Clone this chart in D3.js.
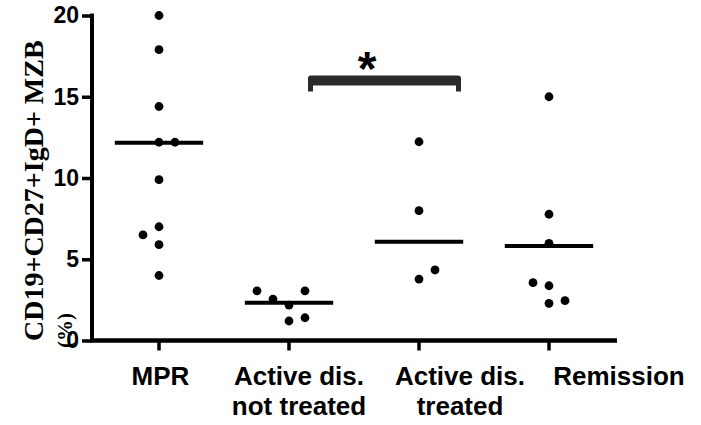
<!DOCTYPE html>
<html>
<head>
<meta charset="utf-8">
<script src="https://cdn.jsdelivr.net/npm/d3@7"></script>
<style>
  body { margin: 0; background: #fff; }
  svg { display: block; }
</style>
</head>
<body>
<script>
// Groups along the x axis and their (wrapped) labels
const categories = ["MPR", "Active dis. not treated", "Active dis. treated", "Remission"];
const categoryLines = [["MPR"], ["Active dis.", "not treated"], ["Active dis.", "treated"], ["Remission"]];

// Per-patient percentages, in entry order
const mprValues = [20.0, 17.9, 14.4, 12.2, 12.2, 9.9, 7.0, 6.5, 5.9, 4.0];
const activeUntreatedValues = [1.2, 1.4, 2.18, 2.55, 3.06, 3.06];
const activeTreatedValues = [3.78, 4.34, 7.99, 12.23];
const remissionValues = [2.29, 2.45, 3.37, 3.56, 5.98, 7.77, 15.0];

// Horizontal summary line for each group
const groupCenters = [12.17, 2.33, 6.08, 5.82];

const yTicks = [0, 5, 10, 15, 20];

// Significance bracket between two groups
const sigPair = [1, 2];
const sigLevel = 16;
const sigLabel = "*";

const yTitleLines = ["CD19+CD27+IgD+ MZB", "(%)"];

const groups = [mprValues, activeUntreatedValues, activeTreatedValues, remissionValues];

const W = 701, H = 425;
const svg = d3.select("body").append("svg").attr("width", W).attr("height", H);

const x = d3.scaleBand().domain(categories).range([94, 614]);
const y = d3.scaleLinear().domain([0, 20]).range([340.5, 15.5]);
const cx = c => x(c) + x.bandwidth() / 2;
const axisX = 92;

const sans = "'Liberation Sans', Arial, Helvetica, sans-serif";
const serif = "'Liberation Serif', 'Times New Roman', serif";

// ---- y axis ----
const gy = svg.append("g")
  .attr("transform", `translate(${axisX},0)`)
  .call(d3.axisLeft(y).tickValues(yTicks).tickSize(10).tickSizeOuter(0).tickPadding(3));
gy.select(".domain").attr("stroke", "#000").attr("stroke-width", 4).attr("d", `M0,${y(20) - 2}V${y(0)}`);
gy.selectAll(".tick line").attr("stroke", "#000").attr("stroke-width", 3.5);
gy.selectAll(".tick text")
  .attr("fill", "#000")
  .style("font-family", sans).style("font-weight", "bold").style("font-size", "23px");

// ---- x axis ----
const gx = svg.append("g")
  .attr("transform", `translate(0,${y(0)})`)
  .call(d3.axisBottom(x).tickSize(10).tickSizeOuter(0).tickFormat(""));
gx.select(".domain").remove();
gx.selectAll(".tick line").attr("stroke", "#000").attr("stroke-width", 3.5);
gx.append("line")
  .attr("x1", axisX - 2).attr("x2", x.range()[1] + 3)
  .attr("y1", 0).attr("y2", 0)
  .attr("stroke", "#000").attr("stroke-width", 4.5);

// category labels, nudged off their ticks the way the group names are set
const labelNudge = [1.5, 10, 41, 70];
categories.forEach((c, i) => {
  const t = svg.append("text")
    .attr("fill", "#000")
    .attr("text-anchor", "middle")
    .style("font-family", sans).style("font-weight", "bold").style("font-size", "26px");
  categoryLines[i].forEach((ln, j) => {
    t.append("tspan")
      .attr("x", cx(c) + labelNudge[i])
      .attr("y", 385 + j * 30)
      .text(ln);
  });
});

// ---- y axis title ----
const title = svg.append("text")
  .attr("transform", "rotate(-90)")
  .attr("fill", "#000")
  .style("font-family", serif).style("font-weight", "bold");
title.append("tspan").attr("x", -341).attr("y", 43).style("font-size", "28px").text(yTitleLines[0]);
title.append("tspan").attr("x", -348).attr("y", 72).style("font-size", "21px").text(yTitleLines[1]);

// ---- dot placement: step sideways when a dot would overlap one in the same lane ----
const laneStep = 16, minGap = 15;
function swarm(values, center) {
  const placed = [];
  let nLeft = 0, nRight = 0;
  return values.map(v => {
    const yy = y(v);
    const free = s => !placed.some(p => p.lane === s && Math.abs(p.y - yy) < minGap);
    let lane = 0;
    if (!free(0)) {
      for (let k = 1; k < 20; k++) {
        const r = free(k), l = free(-k);
        if (r && l) { lane = nRight <= nLeft ? k : -k; break; }
        if (r) { lane = k; break; }
        if (l) { lane = -k; break; }
      }
    }
    if (lane > 0) nRight++; else if (lane < 0) nLeft++;
    placed.push({ y: yy, lane });
    return { v, x: center + lane * laneStep, y: yy };
  });
}

const plot = svg.append("g");
groups.forEach((vals, i) => {
  const c = categories[i];
  const pts = swarm(vals, cx(c));
  plot.selectAll(null).data(pts).join("circle")
    .attr("cx", d => d.x).attr("cy", d => d.y).attr("r", 4.4)
    .attr("fill", "#000");
  const half = x.bandwidth() * 0.34;
  plot.append("line")
    .attr("x1", cx(c) - half).attr("x2", cx(c) + half)
    .attr("y1", y(groupCenters[i])).attr("y2", y(groupCenters[i]))
    .attr("stroke", "#000").attr("stroke-width", 4);
});

// ---- significance bracket ----
const bx0 = cx(categories[sigPair[0]]) + 19;
const bx1 = cx(categories[sigPair[1]]) + 42;
const by = y(sigLevel);
const thick = 10, leg = 6, legW = 5, rad = 3;
svg.append("path")
  .attr("fill", "#2a2a2a")
  .attr("d",
    `M${bx0},${by + thick / 2 + leg}` +
    `V${by - thick / 2 + rad}` +
    `Q${bx0},${by - thick / 2} ${bx0 + rad},${by - thick / 2}` +
    `H${bx1 - rad}` +
    `Q${bx1},${by - thick / 2} ${bx1},${by - thick / 2 + rad}` +
    `V${by + thick / 2 + leg}` +
    `H${bx1 - legW}V${by + thick / 2}H${bx0 + legW}V${by + thick / 2 + leg}Z`);
svg.append("text")
  .attr("x", (cx(categories[sigPair[0]]) + cx(categories[sigPair[1]])) / 2 + 13)
  .attr("y", by + 4.5)
  .attr("text-anchor", "middle")
  .attr("fill", "#000")
  .style("font-family", sans).style("font-weight", "bold").style("font-size", "48px")
  .text(sigLabel);
</script>
</body>
</html>
